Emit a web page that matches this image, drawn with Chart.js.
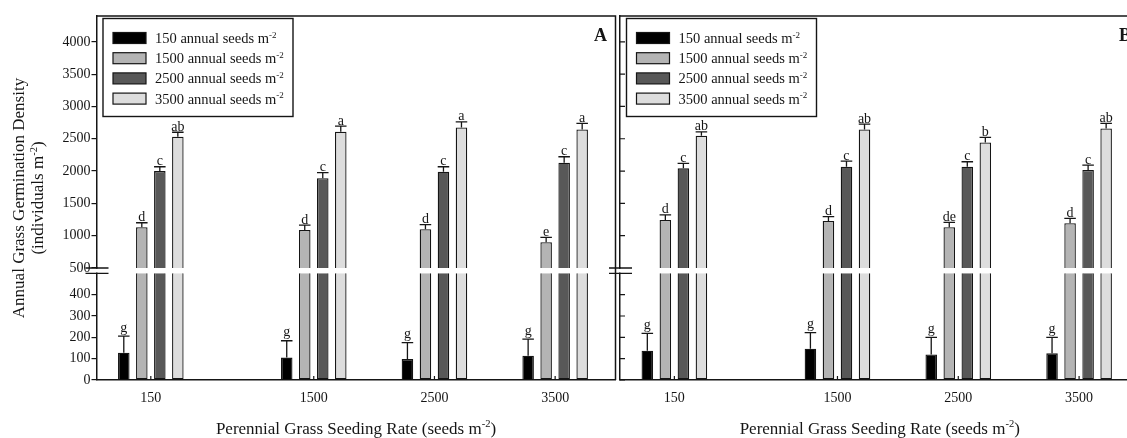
<!DOCTYPE html>
<html>
<head>
<meta charset="utf-8">
<title>Annual grass germination density</title>
<script src="https://cdn.jsdelivr.net/npm/chart.js@4.4.1/dist/chart.umd.min.js"></script>
<style>
  html, body { margin: 0; padding: 0; background: #fff; width: 1127px; height: 438px; overflow: hidden; }
  canvas { position: absolute; top: 0; }
  #panelA { left: 0; }
  #panelB { left: 604px; }
</style>
</head>
<body>
<canvas id="panelA" width="620" height="438"></canvas>
<canvas id="panelB" width="540" height="438"></canvas>
<script>
// perennial grass seeding rates (x axis, seeds m-2)
const seedingRates = [150, 1500, 2500, 3500];
// annual grass seeding treatments, one bar series each
const annualRates = ['150', '1500', '2500', '3500'];
const barColors = ['#000000', '#b4b4b4', '#585858', '#dddddd'];

// y ticks below and above the axis break
const lowerTicks = [0, 100, 200, 300, 400];
const upperTicks = [500, 1000, 1500, 2000, 2500, 3000, 3500, 4000];
const breakAt = 500;

// Panel A: means, one-sided SE and letter groups
const aMean150 = [128, 105, 98, 114];
const aMean1500 = [1130, 1088, 1099, 898];
const aMean2500 = [2000, 1888, 1990, 2129];
const aMean3500 = [2531, 2608, 2676, 2645];
const aErr150 = [78, 79, 77, 78];
const aErr1500 = [70, 77, 71, 77];
const aErr2500 = [67, 87, 77, 93];
const aErr3500 = [70, 88, 87, 93];
const aLetter150 = ['g', 'g', 'g', 'g'];
const aLetter1500 = ['d', 'd', 'd', 'e'];
const aLetter2500 = ['c', 'c', 'c', 'c'];
const aLetter3500 = ['ab', 'a', 'a', 'a'];

// Panel B
const bMean150 = [137, 147, 120, 125];
const bMean1500 = [1243, 1227, 1130, 1192];
const bMean2500 = [2042, 2067, 2067, 2016];
const bMean3500 = [2546, 2645, 2444, 2660];
const bErr150 = [82, 75, 80, 75];
const bErr1500 = [80, 67, 77, 77];
const bErr2500 = [78, 88, 77, 77];
const bErr3500 = [62, 82, 77, 78];
const bLetter150 = ['g', 'g', 'g', 'g'];
const bLetter1500 = ['d', 'd', 'de', 'd'];
const bLetter2500 = ['c', 'c', 'c', 'c'];
const bLetter3500 = ['ab', 'ab', 'b', 'ab'];

const ink = '#151515';
const serif = '"Liberation Serif", "Times New Roman", serif';

// text with superscript pieces: [[text], [sup, true], ...]
function richWidth(ctx, pieces, size) {
  let w = 0;
  pieces.forEach(([t, sup]) => {
    ctx.font = `${sup ? size * 0.62 : size}px ${serif}`;
    w += ctx.measureText(t).width;
  });
  return w;
}
function drawRich(ctx, pieces, x, y, size, align) {
  let cx = align === 'center' ? x - richWidth(ctx, pieces, size) / 2 : x;
  ctx.textAlign = 'left';
  ctx.textBaseline = 'alphabetic';
  pieces.forEach(([t, sup]) => {
    ctx.font = `${sup ? size * 0.62 : size}px ${serif}`;
    ctx.fillText(t, cx, sup ? y - size * 0.36 : y);
    cx += ctx.measureText(t).width;
  });
}

// each series is split into a segment below the break and one above it
function buildDatasets(means) {
  const common = s => ({
    label: annualRates[s] + ' annual seeds m',
    stack: 'k' + s,
    backgroundColor: barColors[s],
    borderColor: ink,
    borderWidth: 1.3,
    categoryPercentage: 0.597,
    barPercentage: 0.64
  });
  const lower = means.map((vals, s) => Object.assign(common(s), {
    yAxisID: 'yLow',
    data: vals.map((v, i) => ({ x: seedingRates[i], y: [0, Math.min(v, breakAt)] })),
    borderSkipped: ctx => (vals[ctx.dataIndex] > breakAt ? 'end' : 'start')
  }));
  const upper = means.map((vals, s) => Object.assign(common(s), {
    yAxisID: 'yHigh',
    data: vals.map((v, i) => ({ x: seedingRates[i], y: [breakAt, v] })).filter(p => p.y[1] > breakAt),
    borderSkipped: 'start'
  }));
  return lower.concat(upper);
}

function errorBarPlugin(means, errors, letters) {
  return {
    id: 'errorBars',
    afterDatasetsDraw(chart) {
      const { ctx, scales } = chart;
      ctx.save();
      ctx.strokeStyle = ink;
      ctx.fillStyle = ink;
      ctx.lineWidth = 1.3;
      ctx.font = `14px ${serif}`;
      ctx.textAlign = 'center';
      ctx.textBaseline = 'alphabetic';
      means.forEach((vals, s) => {
        const meta = chart.getDatasetMeta(s);
        vals.forEach((v, i) => {
          const bar = meta.data[i];
          const yScale = v > breakAt ? scales.yHigh : scales.yLow;
          const y0 = yScale.getPixelForValue(v);
          const y1 = yScale.getPixelForValue(v + errors[s][i]);
          const half = bar.width / 2;
          ctx.beginPath();
          ctx.moveTo(bar.x, y0);
          ctx.lineTo(bar.x, y1);
          ctx.moveTo(bar.x - half, y1);
          ctx.lineTo(bar.x + half, y1);
          ctx.stroke();
          const m = ctx.measureText(letters[s][i]);
          ctx.fillText(letters[s][i], bar.x, y1 - 1.5 - m.actualBoundingBoxDescent);
        });
      });
      ctx.restore();
    }
  };
}

function panelDecor(opts) {
  return {
    id: 'panelDecor',
    afterDraw(chart) {
      const { ctx, chartArea: area, scales } = chart;
      const low = scales.yLow, high = scales.yHigh, x = scales.x;
      ctx.save();
      ctx.strokeStyle = ink;
      ctx.lineWidth = 1.5;

      // frame: top edge, plus right edge on the left-hand panel
      ctx.beginPath();
      ctx.moveTo(area.left, area.top);
      ctx.lineTo(area.right, area.top);
      if (opts.rightFrame) ctx.lineTo(area.right, area.bottom);
      ctx.stroke();

      // small upward ticks at each seeding rate
      ctx.lineWidth = 1.2;
      ctx.beginPath();
      seedingRates.forEach(r => {
        const px = x.getPixelForValue(r);
        ctx.moveTo(px, area.bottom);
        ctx.lineTo(px, area.bottom - 4);
      });
      // inward y ticks when labels are hidden
      if (!opts.tickLabels) {
        [low, high].forEach(sc => sc.ticks.forEach(t => {
          if (t.value === breakAt) return;
          const py = sc.getPixelForValue(t.value);
          ctx.moveTo(area.left, py);
          ctx.lineTo(area.left + 5, py);
        }));
      }
      ctx.stroke();

      // axis break marks
      const yb1 = high.getPixelForValue(breakAt);
      const yb2 = low.getPixelForValue(breakAt);
      ctx.fillStyle = '#fff';
      ctx.fillRect(area.left - 3, yb1 + 0.8, 6, yb2 - yb1 - 1.6);
      ctx.lineWidth = 1.3;
      ctx.beginPath();
      ctx.moveTo(area.left - 11, yb1); ctx.lineTo(area.left + 12, yb1);
      ctx.moveTo(area.left - 11, yb2); ctx.lineTo(area.left + 12, yb2);
      ctx.stroke();

      // legend box
      const lx = area.left + 6.5, ly = area.top + 2.5, lw = 190, lh = 98;
      ctx.fillStyle = '#fff';
      ctx.fillRect(lx, ly, lw, lh);
      ctx.lineWidth = 1.4;
      ctx.strokeRect(lx, ly, lw, lh);
      ctx.lineWidth = 1.2;
      for (let s = 0; s < annualRates.length; s++) {
        const ds = chart.data.datasets[s];
        const cy = ly + 19.5 + s * 20.2;
        ctx.fillStyle = ds.backgroundColor;
        ctx.fillRect(lx + 10, cy - 5.5, 33, 11);
        ctx.strokeRect(lx + 10, cy - 5.5, 33, 11);
        ctx.fillStyle = ink;
        drawRich(ctx, [[ds.label], ['-2', true]], lx + 52, cy + 5, 14.5, 'left');
      }

      // panel letter
      ctx.fillStyle = ink;
      ctx.font = `bold 18px ${serif}`;
      ctx.textAlign = 'right';
      ctx.textBaseline = 'alphabetic';
      ctx.fillText(opts.letter, area.right - 8.5, area.top + 24.5);

      // axis titles
      drawRich(ctx, [['Perennial Grass Seeding Rate (seeds m'], ['-2', true], [')']],
        (area.left + area.right) / 2, 433.5, 17, 'center');
      if (opts.yTitle) {
        const cy = (area.top + area.bottom) / 2;
        ctx.save();
        ctx.translate(23.5, cy);
        ctx.rotate(-Math.PI / 2);
        drawRich(ctx, [['Annual Grass Germination Density']], 0, 0, 17, 'center');
        ctx.restore();
        ctx.save();
        ctx.translate(43, cy);
        ctx.rotate(-Math.PI / 2);
        drawRich(ctx, [['(individuals m'], ['-2', true], [')']], 0, 0, 17, 'center');
        ctx.restore();
      }
      ctx.restore();
    }
  };
}

function yScale(ticks, min, max, weight, opts) {
  return {
    type: 'linear',
    position: 'left',
    stack: 'split',
    stackWeight: weight,
    stacked: false,
    min, max,
    afterBuildTicks: sc => { sc.ticks = ticks.map(v => ({ value: v })); },
    afterFit: sc => { sc.width = opts.axisWidth; },
    ticks: {
      display: opts.tickLabels,
      autoSkip: false,
      color: ink,
      padding: 1,
      font: { family: serif, size: 14 },
      callback: v => String(v)
    },
    grid: { drawOnChartArea: false, drawTicks: opts.tickLabels, tickLength: 5, color: ink, lineWidth: 1.2 },
    border: { display: true, color: ink, width: 1.5 }
  };
}

function makePanel(id, means, errors, letters, opts) {
  return new Chart(document.getElementById(id), {
    type: 'bar',
    data: { datasets: buildDatasets(means) },
    options: {
      responsive: false,
      animation: false,
      layout: { padding: { top: 16, right: 4.5, bottom: 0, left: 0 } },
      plugins: { legend: { display: false }, tooltip: { enabled: false } },
      scales: {
        x: {
          type: 'linear',
          min: -300,
          max: 4000,
          offset: false,
          afterBuildTicks: sc => { sc.ticks = seedingRates.map(v => ({ value: v })); },
          afterFit: sc => { sc.height = 58; },
          ticks: { autoSkip: false, color: ink, padding: 10, font: { family: serif, size: 14 }, callback: v => String(v) },
          grid: { drawOnChartArea: false, drawTicks: false },
          border: { display: true, color: ink, width: 1.5 }
        },
        yLow: yScale(lowerTicks, 0, 525, 112, opts),
        yHigh: yScale(upperTicks, breakAt, 4400, 252, opts)
      }
    },
    plugins: [errorBarPlugin(means, errors, letters), panelDecor(opts)]
  });
}

makePanel('panelA',
  [aMean150, aMean1500, aMean2500, aMean3500],
  [aErr150, aErr1500, aErr2500, aErr3500],
  [aLetter150, aLetter1500, aLetter2500, aLetter3500],
  { letter: 'A', axisWidth: 96.5, tickLabels: true, yTitle: true, rightFrame: true });

makePanel('panelB',
  [bMean150, bMean1500, bMean2500, bMean3500],
  [bErr150, bErr1500, bErr2500, bErr3500],
  [bLetter150, bLetter1500, bLetter2500, bLetter3500],
  { letter: 'B', axisWidth: 16, tickLabels: false, yTitle: false, rightFrame: false });
</script>
</body>
</html>
